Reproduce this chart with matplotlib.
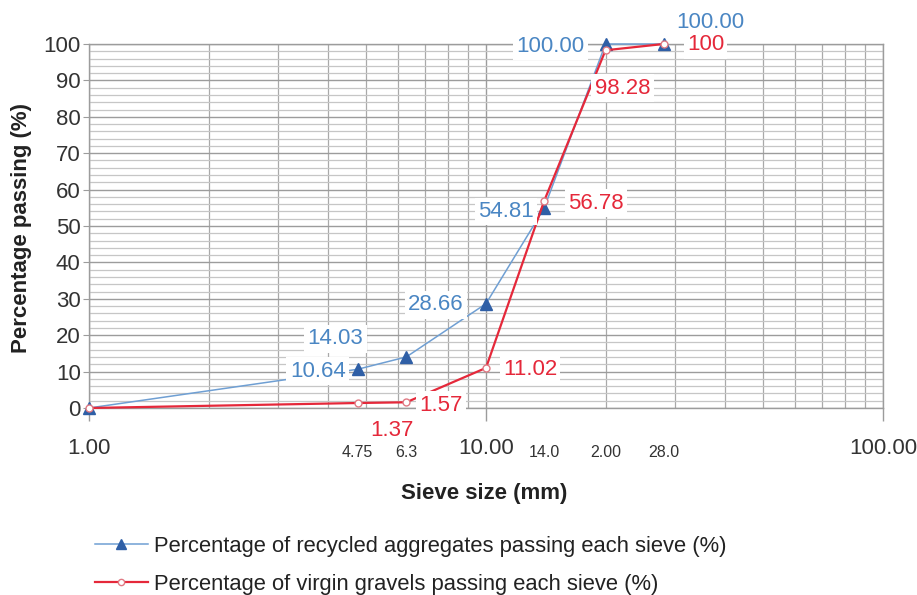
import matplotlib
matplotlib.use("Agg")
import matplotlib.pyplot as plt
import matplotlib.transforms as mtransforms
from matplotlib.ticker import LogLocator, MultipleLocator, NullFormatter, FixedLocator
from matplotlib.lines import Line2D

plt.rcParams['font.family'] = ['Liberation Sans', 'DejaVu Sans']

# sieve sizes (mm) and cumulative passing (%)
sieves = [1.0, 4.75, 6.3, 10.0, 14.0, 20.0, 28.0]
recycled = [0.0, 10.64, 14.03, 28.66, 54.81, 100.0, 100.0]
virgin = [0.0, 1.37, 1.57, 11.02, 56.78, 98.28, 100.0]

recycled_labels = [None, "10.64", "14.03", "28.66", "54.81", "100.00", "100.00"]
virgin_labels = [None, "1.37", "1.57", "11.02", "56.78", "98.28", "100"]

major_x = [1, 10, 100]
major_x_labels = ["1.00", "10.00", "100.00"]
sieve_ticks = [4.75, 6.3, 14.0, 20.0, 28.0]
sieve_tick_labels = ["4.75", "6.3", "14.0", "2.00", "28.0"]
y_ticks = list(range(0, 101, 10))

BLUE_LINE = '#6f9fd3'
BLUE_MARK = '#2f5fa6'
BLUE_TEXT = '#4a86c3'
RED = '#e5283a'
GRID = '#a9a9a9'

fig = plt.figure(figsize=(9.17, 5.95), dpi=100)
ax = fig.add_axes([89 / 917, 1 - 408 / 595, (883 - 89) / 917, (408 - 44) / 595])

ax.set_xscale('log')
ax.set_xlim(1, 100)
ax.set_ylim(0, 100)

# grid: log minor verticals, horizontal lines every 2 %
ax.xaxis.set_minor_locator(LogLocator(base=10, subs=range(2, 10)))
ax.xaxis.set_minor_formatter(NullFormatter())
ax.xaxis.set_major_locator(FixedLocator(major_x))
ax.set_xticklabels([])
ax.yaxis.set_major_locator(FixedLocator(y_ticks))
ax.yaxis.set_minor_locator(MultipleLocator(2))
ax.grid(True, which='major', axis='both', color='#9c9c9c', lw=1.0)
ax.grid(True, which='minor', axis='x', color=GRID, lw=0.9)
ax.grid(True, which='minor', axis='y', color='#c6c6c6', lw=0.9)
ax.set_axisbelow(True)

for s in ax.spines.values():
    s.set_color('#9c9c9c')
    s.set_linewidth(1.0)

ax.tick_params(axis='x', which='major', length=9, color='#9c9c9c', width=1.0)
ax.tick_params(axis='x', which='minor', length=0)
ax.tick_params(axis='y', which='major', length=4, color='#9c9c9c', labelsize=16,
               labelcolor='#333333', pad=2)
ax.tick_params(axis='y', which='minor', length=0)
ax.set_yticklabels([str(v) for v in y_ticks])

# x tick labels drawn as text under the axis
trans = mtransforms.blended_transform_factory(ax.transData, ax.transAxes)
for xv, lab in zip(major_x, major_x_labels):
    ax.text(xv, -0.11, lab, transform=trans, ha='center', va='center',
            fontsize=16, color='#333333')
for xv, lab in zip(sieve_ticks, sieve_tick_labels):
    ax.text(xv, -0.122, lab, transform=trans, ha='center', va='center',
            fontsize=11.5, color='#333333')

# curves
ax.plot(sieves, recycled, color=BLUE_LINE, lw=1.1, marker='^', ms=8,
        mfc=BLUE_MARK, mec=BLUE_MARK, zorder=3, clip_on=False)
ax.plot(sieves, virgin, color=RED, lw=1.6, marker='o', ms=5,
        mfc='white', mec='#e07a84', mew=1.0, zorder=4, clip_on=False)

# value labels (offsets in pixels)
blue_offsets = [None, (-40, -2), (-71, 18), (-50, -1), (-38, -3), (-55, -2), (47, 22)]
red_offsets = [None, (34, -27), (35, -3), (44, -2), (52, -2), (17, -38), (42, -1)]
box = dict(boxstyle='square,pad=0.15', fc='white', ec='none')
for xv, yv, lab, off in zip(sieves, recycled, recycled_labels, blue_offsets):
    if lab is None:
        continue
    ax.annotate(lab, (xv, yv), xytext=off, textcoords='offset pixels',
                ha='center', va='center', fontsize=16, color=BLUE_TEXT,
                bbox=box, zorder=5, annotation_clip=False)
for xv, yv, lab, off in zip(sieves, virgin, virgin_labels, red_offsets):
    if lab is None:
        continue
    ax.annotate(lab, (xv, yv), xytext=off, textcoords='offset pixels',
                ha='center', va='center', fontsize=16, color=RED,
                bbox=box, zorder=5, annotation_clip=False)

fig.text(22 / 917, 1 - 228 / 595, "Percentage passing (%)", rotation=90,
         ha='center', va='center', fontsize=16, fontweight='bold', color='#222222')
fig.text(484 / 917, 1 - 493 / 595, "Sieve size (mm)", ha='center', va='center',
         fontsize=16, fontweight='bold', color='#222222')

handles = [
    Line2D([], [], color=BLUE_LINE, lw=1.1, marker='^', ms=7, mfc=BLUE_MARK, mec=BLUE_MARK),
    Line2D([], [], color=RED, lw=1.6, marker='o', ms=4.5, mfc='white', mec='#e07a84'),
]
labels = ["Percentage of recycled aggregates passing each sieve (%)",
          "Percentage of virgin gravels passing each sieve (%)"]
fig.legend(handles, labels, loc='upper left', bbox_to_anchor=(95 / 917, 1 - 536 / 595),
           frameon=False, fontsize=15.8, handlelength=2.4, handletextpad=0.3,
           labelspacing=0.78, labelcolor='#222222', borderaxespad=0, borderpad=0)

fig.savefig('out.png', dpi=100)
